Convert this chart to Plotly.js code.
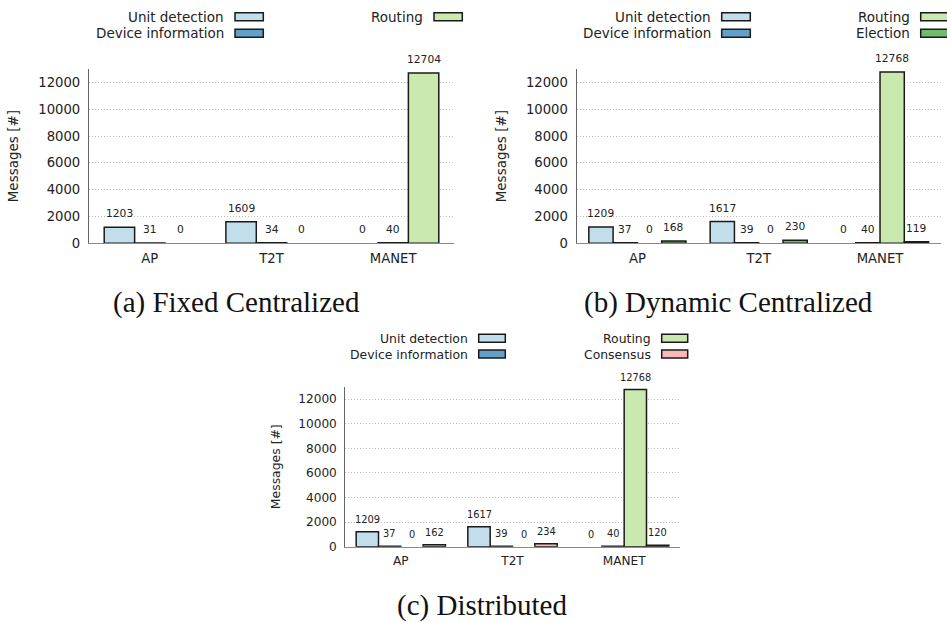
<!DOCTYPE html>
<html><head><meta charset="utf-8">
<script src="https://cdn.plot.ly/plotly-3.0.1.min.js"></script>
<style>html,body{margin:0;padding:0;background:#fff}#chart{width:947px;height:622px}</style>
</head><body><div id="chart"></div>
<script>
// ---- data ----
const categories = ['AP', 'T2T', 'MANET'];
const yTickVals = [0, 2000, 4000, 6000, 8000, 10000, 12000];

const namesA = ['Unit detection', 'Device information', 'Routing'];
const unitDetectionA = [1203, 1609, 0];
const deviceInfoA = [31, 34, 40];
const routingA = [0, 0, 12704];

const namesB = ['Unit detection', 'Device information', 'Routing', 'Election'];
const unitDetectionB = [1209, 1617, 0];
const deviceInfoB = [37, 39, 40];
const routingB = [0, 0, 12768];
const electionB = [168, 230, 119];

const namesC = ['Unit detection', 'Device information', 'Routing', 'Consensus'];
const unitDetectionC = [1209, 1617, 0];
const deviceInfoC = [37, 39, 40];
const routingC = [0, 0, 12768];
const consensusC = [162, 234, 120];

const captions = ['(a) Fixed Centralized', '(b) Dynamic Centralized', '(c) Distributed'];
const yTitle = 'Messages [#]';

// ---- style ----
const colors = {
  'Unit detection': '#c3deeb',
  'Device information': '#62a0ca',
  'Routing': '#cae9ae',
  'Election': '#70bc6b',
  'Consensus': '#fcb8b8'
};
const W = 947, H = 622;
const px = x => x / W;
const py = y => 1 - y / H;

const panels = [
  {sfx: '', names: namesA, series: [unitDetectionA, deviceInfoA, routingA], xd: [89, 454], yd: [69, 243.3], s: 1, bw: 0.25,
   leg: {t1: 225.7, s1: [235, 263.3], t2: 425, s2: [434, 462.3], rows: [16.7, 33.3]}, cap: {x: 236.7, y: 302.5}},
  {sfx: '2', names: namesB, series: [unitDetectionB, deviceInfoB, routingB, electionB], xd: [576.7, 940.7], yd: [69, 243.3], s: 1, bw: 0.2,
   leg: {t1: 713, s1: [721.7, 750.3], t2: 911.7, s2: [920.7, 949], rows: [16.7, 33.3]}, cap: {x: 728, y: 302.5}},
  {sfx: '3', names: namesC, series: [unitDetectionC, deviceInfoC, routingC, consensusC], xd: [345, 680], yd: [386.7, 546.7], s: 0.92, bw: 0.2,
   leg: {t1: 470.3, s1: [478.7, 505.3], t2: 653.3, s2: [661.7, 687.7], rows: [338.3, 354]}, cap: {x: 482, y: 605.5}}
];

const traces = [];
const annotations = [];
const shapes = [];
const layout = {
  width: W, height: H, margin: {l: 0, r: 0, t: 0, b: 0},
  paper_bgcolor: '#fff', plot_bgcolor: '#fff',
  barmode: 'overlay', showlegend: false,
  font: {family: 'DejaVu Sans', color: '#222'},
  annotations: annotations, shapes: shapes
};

panels.forEach((p, pi) => {
  const n = p.series.length;
  const xr = 'x' + p.sfx, yr = 'y' + p.sfx;
  p.series.forEach((vals, j) => {
    const off = -n * p.bw / 2 + j * p.bw;
    traces.push({
      type: 'bar', x: categories, y: vals, name: p.names[j],
      xaxis: xr, yaxis: yr, width: p.bw, offset: off,
      marker: {color: colors[p.names[j]], line: {color: '#1a1a1a', width: vals.map(v => v === 0 ? 0 : 1.5)}},
      hovertemplate: p.names[j] + ': %{y}<extra></extra>'
    });
    vals.forEach((v, i) => {
      annotations.push({
        xref: xr, yref: yr, x: i + off + p.bw / 2, y: v, text: String(v),
        showarrow: false, xanchor: 'center', yanchor: 'middle', yshift: 13.5 * p.s,
        font: {family: 'DejaVu Sans', size: 10.7 * p.s, color: '#222'}
      });
    });
  });
  const xa = {
    domain: [px(p.xd[0]), px(p.xd[1])], anchor: yr, type: 'category', range: [-0.5, 2.5],
    showline: true, linecolor: '#8a8a8a', linewidth: 1.3, showgrid: false, zeroline: false,
    ticks: 'outside', ticklen: 3 * p.s, tickcolor: 'rgba(0,0,0,0)',
    tickfont: {family: 'DejaVu Sans', size: 13.2 * p.s, color: '#222'}, fixedrange: true
  };
  const ya = {
    domain: [py(p.yd[1]), py(p.yd[0])], anchor: xr, range: [0, 13000],
    tickvals: yTickVals, ticktext: yTickVals.map(String),
    showline: true, linecolor: '#666', linewidth: 1.3,
    showgrid: true, gridcolor: '#bdbdbd', griddash: '1px,2px', gridwidth: 1, zeroline: false,
    ticks: 'outside', ticklen: 5 * p.s, tickcolor: 'rgba(0,0,0,0)',
    tickfont: {family: 'DejaVu Sans', size: 13.2 * p.s, color: '#222'},
    title: {text: yTitle, font: {family: 'DejaVu Sans', size: 13.5 * p.s, color: '#222'}, standoff: 16 * p.s},
    fixedrange: true
  };
  layout['xaxis' + p.sfx] = xa;
  layout['yaxis' + p.sfx] = ya;

  // legend (text right-aligned, swatch on right), two columns
  const sh = 8;
  p.names.forEach((nm, j) => {
    const col = j < 2 ? 0 : 1;
    const row = j % 2;
    const tx = col === 0 ? p.leg.t1 : p.leg.t2;
    const sw = col === 0 ? p.leg.s1 : p.leg.s2;
    const cy = p.leg.rows[row];
    annotations.push({
      xref: 'paper', yref: 'paper', x: px(tx), y: py(cy), text: nm, showarrow: false,
      xanchor: 'right', yanchor: 'middle',
      font: {family: 'DejaVu Sans', size: 13.5 * p.s, color: '#222'}
    });
    shapes.push({
      type: 'rect', xref: 'paper', yref: 'paper',
      x0: px(sw[0]), x1: px(sw[1]), y0: py(cy + sh / 2), y1: py(cy - sh / 2),
      fillcolor: colors[nm], line: {color: '#1a1a1a', width: 1.5}
    });
  });

  annotations.push({
    xref: 'paper', yref: 'paper', x: px(p.cap.x), y: py(p.cap.y), text: captions[pi],
    showarrow: false, xanchor: 'center', yanchor: 'middle',
    font: {family: 'Liberation Serif', size: 29, color: '#111'}
  });
});

Plotly.newPlot('chart', traces, layout, {displayModeBar: false, responsive: false});
</script>
</body></html>
